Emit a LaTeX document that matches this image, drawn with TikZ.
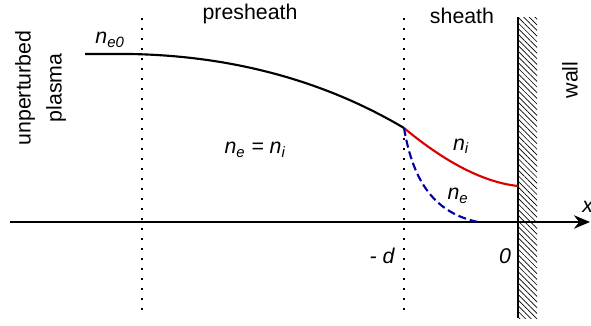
\documentclass[tikz,border=0pt]{standalone}
\usepackage{fontspec}
\setmainfont{Liberation Sans}
\usetikzlibrary{arrows.meta, patterns.meta}
\tikzstyle{label} = [font=\fontsize{16}{18}\selectfont, inner sep=1pt]
\tikzstyle{boundary} = [line width=1.5pt, dash pattern=on 1.5pt off 6pt]
\tikzstyle{profile} = [line width=1.6pt]
\tikzstyle{arrow} = [line width=1.8pt,-{Stealth[length=12pt,width=10pt]}]

\begin{document}
\begin{tikzpicture}[x=0.75pt, y=-0.75pt]
\useasboundingbox (0,0) rectangle (591,325);

% Coordinates
\coordinate (axisstart) at (10,222);
\coordinate (axisend) at (590,222);
\coordinate (pretop) at (142,18);
\coordinate (prebot) at (142,318);
\coordinate (dtop) at (404,18);
\coordinate (dbot) at (404,318);
\coordinate (walltop) at (518,17);
\coordinate (wallbot) at (518,318);
\coordinate (plasma) at (85,54);
\coordinate (flat) at (130,54);
\coordinate (edge) at (404,128);
\coordinate (ionend) at (518,186);
\coordinate (elecend) at (478,222);

% Wall
\fill[pattern={Lines[angle=-45, distance=3pt, line width=0.5pt]}] (walltop) rectangle (537,318);
\draw[line width=2pt] (walltop) -- (wallbot);

% Boundaries
\draw[boundary] (pretop) -- (prebot);
\draw[boundary] (dtop) -- (dbot);

% Axis
\draw[arrow] (axisstart) -- (axisend);

% Profiles
\draw[profile] (plasma) -- (flat) .. controls (250,56) and (340,90) .. (edge);
\draw[profile, red!85!black] (edge) .. controls (440,158) and (480,182) .. (ionend);
\draw[profile, blue!65!black, dash pattern=on 6pt off 3pt] (edge) .. controls (412,175) and (430,212) .. (elecend);

% Nodes
\node[label, rotate=90] (unperturbed) at (25,88) {unperturbed};
\node[label, rotate=90] (plasmatext) at (56,88) {plasma};
\node[label] (presheath) at (250,14) {presheath};
\node[label] (sheath) at (462,16) {sheath};
\node[label, rotate=90] (wall) at (570,80) {wall};
\node[label] (ne0) at (110,40) {\itshape n\textsubscript{e0}};
\node[label] (equal) at (255,150) {\itshape n\textsubscript{e} = n\textsubscript{i}};
\node[label] (ni) at (461,146) {\itshape n\textsubscript{i}};
\node[label] (ne) at (458,196) {\itshape n\textsubscript{e}};
\node[label] (minusd) at (382,256) {\itshape - d};
\node[label] (zero) at (505,256) {\itshape 0};
\node[label, anchor=west, inner sep=0pt] (xlabel) at (582,207) {\itshape x};

\end{tikzpicture}
\end{document}
